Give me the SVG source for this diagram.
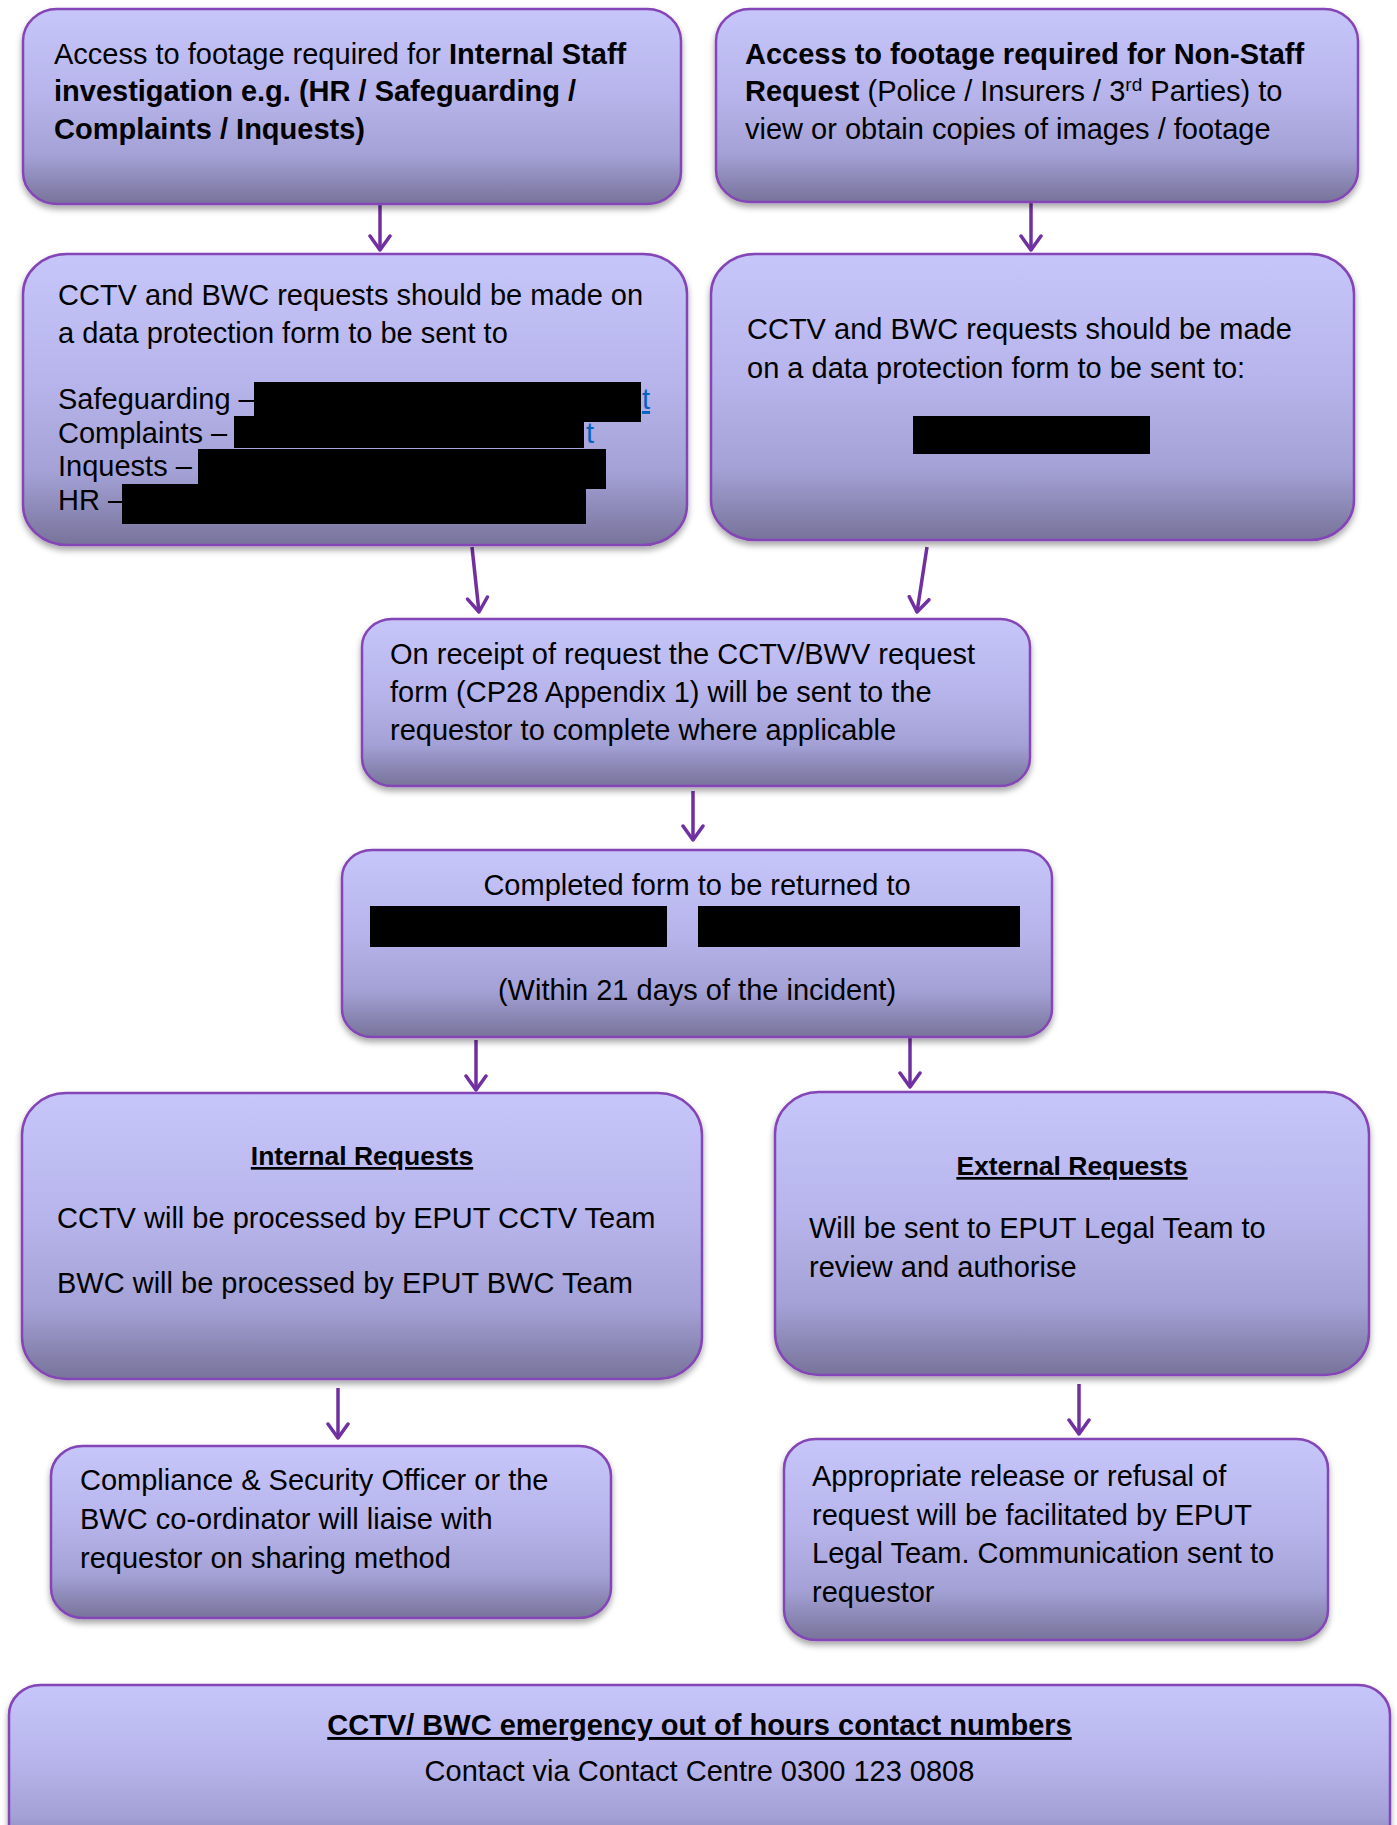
<svg xmlns="http://www.w3.org/2000/svg" width="1397" height="1825" viewBox="0 0 1397 1825">
<defs>
<linearGradient id="fillg" x1="0" y1="0" x2="0" y2="1">
<stop offset="0" stop-color="#c7c6fb"/>
<stop offset="0.45" stop-color="#b6b4ea"/>
<stop offset="0.75" stop-color="#a4a1d6"/>
<stop offset="1" stop-color="#77739a"/>
</linearGradient>
<filter id="shadow" x="-5%" y="-5%" width="110%" height="115%">
<feDropShadow dx="0" dy="4" stdDeviation="3" flood-color="#000" flood-opacity="0.35"/>
</filter>
<marker id="arr" markerUnits="userSpaceOnUse" markerWidth="30" markerHeight="30" viewBox="-16 -15 30 30" refX="0" refY="0" orient="auto">
<path d="M-14,-10 L0,0 L-14,10" fill="none" stroke="#7030a0" stroke-width="3.5" stroke-linejoin="round" stroke-linecap="round"/>
</marker>
<style>
.box{fill:url(#fillg);stroke:#8444b6;stroke-width:2.5;filter:url(#shadow)}
.t{font-family:"Liberation Sans",Arial,sans-serif;font-size:29px;fill:#000}
.b{font-weight:bold}
.h{font-family:"Liberation Sans",Arial,sans-serif;font-size:26.5px;font-weight:bold;text-decoration:underline;fill:#000}
.c{text-anchor:middle}
.red{fill:#000}
.lnk{fill:#0563c1}
.conn{stroke:#7030a0;stroke-width:3.5;fill:none;marker-end:url(#arr)}
</style>
</defs>

<g id="connectors">
<line class="conn" x1="380" y1="205" x2="380" y2="250"/>
<line class="conn" x1="1031" y1="203" x2="1031" y2="250"/>
<line class="conn" x1="472" y1="547" x2="479" y2="612"/>
<line class="conn" x1="927" y1="547" x2="917" y2="612"/>
<line class="conn" x1="693" y1="791" x2="693" y2="840"/>
<line class="conn" x1="476" y1="1040" x2="476" y2="1090"/>
<line class="conn" x1="910" y1="1038" x2="910" y2="1087"/>
<line class="conn" x1="338" y1="1388" x2="338" y2="1438"/>
<line class="conn" x1="1079" y1="1384" x2="1079" y2="1434"/>
</g>

<g id="n1">
<rect class="box" x="23" y="9" width="658" height="195" rx="34" ry="32"/>
<text class="t" x="54" y="64">Access to footage required for <tspan class="b">Internal Staff</tspan></text>
<text class="t b" x="54" y="101">investigation e.g. (HR / Safeguarding /</text>
<text class="t b" x="54" y="139">Complaints / Inquests)</text>
</g>

<g id="n2">
<rect class="box" x="716" y="9" width="642" height="193" rx="34" ry="32"/>
<text class="t b" x="745" y="64">Access to footage required for Non-Staff</text>
<text class="t" x="745" y="101"><tspan class="b">Request</tspan> (Police / Insurers / 3<tspan font-size="19" dy="-10">rd</tspan><tspan dy="10"> Parties) to</tspan></text>
<text class="t" x="745" y="139">view or obtain copies of images / footage</text>
</g>

<g id="n3">
<rect class="box" x="23" y="254" width="664" height="291" rx="44" ry="40"/>
<text class="t" x="58" y="305">CCTV and BWC requests should be made on</text>
<text class="t" x="58" y="343">a data protection form to be sent to</text>
<text class="t" x="58" y="409">Safeguarding –</text>
<text class="t" x="58" y="442.5">Complaints –</text>
<text class="t" x="58" y="476">Inquests –</text>
<text class="t" x="58" y="509.5">HR –</text>
<text class="t lnk" x="642" y="409" text-decoration="underline">t</text>
<text class="t lnk" x="586" y="442.5">t</text>
<rect class="red" x="254" y="382" width="387" height="40"/>
<rect class="red" x="234" y="416" width="350" height="32"/>
<rect class="red" x="198" y="449" width="408" height="40"/>
<rect class="red" x="122" y="484" width="464" height="40"/>
</g>

<g id="n4">
<rect class="box" x="711" y="254" width="643" height="286" rx="44" ry="40"/>
<text class="t" x="747" y="339">CCTV and BWC requests should be made</text>
<text class="t" x="747" y="378">on a data protection form to be sent to:</text>
<rect class="red" x="913" y="416" width="237" height="38"/>
</g>

<g id="n5">
<rect class="box" x="362" y="619" width="668" height="167" rx="30" ry="28"/>
<text class="t" x="390" y="664">On receipt of request the CCTV/BWV request</text>
<text class="t" x="390" y="702">form (CP28 Appendix 1) will be sent to the</text>
<text class="t" x="390" y="740">requestor to complete where applicable</text>
</g>

<g id="n6">
<rect class="box" x="342" y="850" width="710" height="187" rx="30" ry="28"/>
<text class="t c" x="697" y="895">Completed form to be returned to</text>
<rect class="red" x="370" y="906" width="297" height="41"/>
<rect class="red" x="698" y="906" width="322" height="41"/>
<text class="t c" x="697" y="1000">(Within 21 days of the incident)</text>
</g>

<g id="n7">
<rect class="box" x="22" y="1093" width="680" height="286" rx="44" ry="42"/>
<text class="h c" x="362" y="1165">Internal Requests</text>
<text class="t" x="57" y="1228">CCTV will be processed by EPUT CCTV Team</text>
<text class="t" x="57" y="1293">BWC will be processed by EPUT BWC Team</text>
</g>

<g id="n8">
<rect class="box" x="775" y="1092" width="594" height="283" rx="44" ry="42"/>
<text class="h c" x="1072" y="1175">External Requests</text>
<text class="t" x="809" y="1238">Will be sent to EPUT Legal Team to</text>
<text class="t" x="809" y="1277">review and authorise</text>
</g>

<g id="n9">
<rect class="box" x="51" y="1446" width="560" height="172" rx="32" ry="30"/>
<text class="t" x="80" y="1490">Compliance &amp; Security Officer or the</text>
<text class="t" x="80" y="1529">BWC co-ordinator will liaise with</text>
<text class="t" x="80" y="1568">requestor on sharing method</text>
</g>

<g id="n10">
<rect class="box" x="784" y="1439" width="544" height="201" rx="32" ry="30"/>
<text class="t" x="812" y="1486">Appropriate release or refusal of</text>
<text class="t" x="812" y="1525">request will be facilitated by EPUT</text>
<text class="t" x="812" y="1563">Legal Team. Communication sent to</text>
<text class="t" x="812" y="1602">requestor</text>
</g>

<g id="n11">
<rect class="box" x="9" y="1685" width="1381" height="175" rx="32" ry="30"/>
<text class="t b c" x="699.5" y="1735" text-decoration="underline">CCTV/ BWC emergency out of hours contact numbers</text>
<text class="t c" x="699.5" y="1781">Contact via Contact Centre 0300 123 0808</text>
</g>
</svg>
